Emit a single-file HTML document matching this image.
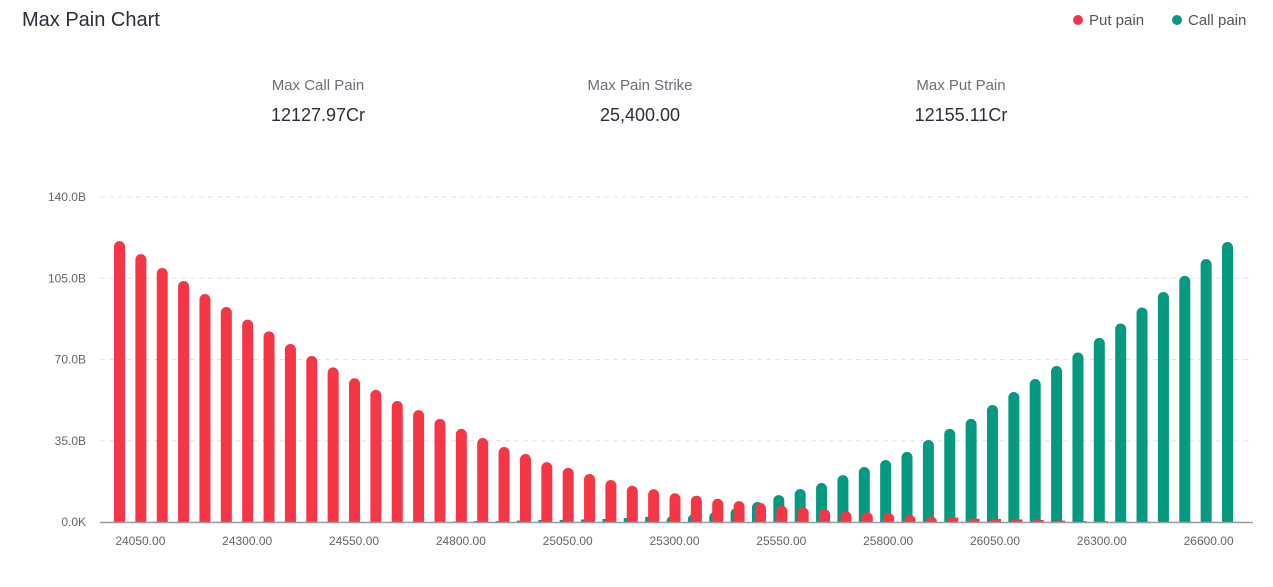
<!DOCTYPE html>
<html><head><meta charset="utf-8"><style>
body{margin:0;background:#fff;font-family:"Liberation Sans",sans-serif;}
#wrap{position:relative;width:1273px;height:587px;overflow:hidden;}
.t{position:absolute;white-space:nowrap;}
</style></head><body>
<div id="wrap">
<div class="t" style="left:22px;top:9px;font-size:20px;color:#2a2f3a;">Max Pain Chart</div>
<div class="t" style="left:1073px;top:12px;font-size:15px;color:#555;"><span style="display:inline-block;width:10px;height:10px;border-radius:50%;background:#f43647;margin-right:6px;vertical-align:0px"></span>Put pain</div>
<div class="t" style="left:1172px;top:12px;font-size:15px;color:#555;"><span style="display:inline-block;width:10px;height:10px;border-radius:50%;background:#059a80;margin-right:6px;vertical-align:0px"></span>Call pain</div>
<div class="t" style="left:218px;width:200px;text-align:center;top:77px;font-size:15px;color:#6b6f78;">Max Call Pain</div>
<div class="t" style="left:218px;width:200px;text-align:center;top:105px;font-size:18px;color:#2a2f3a;">12127.97Cr</div>
<div class="t" style="left:540px;width:200px;text-align:center;top:77px;font-size:15px;color:#6b6f78;">Max Pain Strike</div>
<div class="t" style="left:540px;width:200px;text-align:center;top:105px;font-size:18px;color:#2a2f3a;">25,400.00</div>
<div class="t" style="left:861px;width:200px;text-align:center;top:77px;font-size:15px;color:#6b6f78;">Max Put Pain</div>
<div class="t" style="left:861px;width:200px;text-align:center;top:105px;font-size:18px;color:#2a2f3a;">12155.11Cr</div>
<svg id="chart" width="1273" height="587" style="position:absolute;left:0;top:0" font-family="Liberation Sans, sans-serif"></svg>
</div>
<script>
const putPain=[121.0,115.4,109.4,103.8,98.2,92.6,87.2,82.1,76.7,71.5,66.6,61.9,56.9,52.1,48.2,44.4,40.1,36.2,32.3,29.3,25.8,23.3,20.7,18.1,15.6,14.1,12.4,11.3,10.0,9.0,8.2,7.0,6.3,5.6,4.7,4.2,3.9,3.0,2.4,1.9,1.4,1.3,1.1,0.9,0.6,0.4,0.4,0.2,0.2,0.1,0.1,0.1,0.1];
const callPain=[0.1,0.1,0.1,0.1,0.1,0.1,0.1,0.1,0.1,0.1,0.1,0.1,0.1,0.1,0.1,0.1,0.2,0.4,0.4,0.6,0.9,0.9,1.1,1.3,1.7,2.2,2.6,3.4,4.3,6.0,8.6,11.6,14.2,16.8,20.2,23.7,26.7,30.2,35.3,40.1,44.4,50.4,56.0,61.6,67.2,73.0,79.3,85.5,92.4,99.1,106.0,113.3,120.6];
const yTicks=[0,35,70,105,140];
const yTickLabels=["0.0K","35.0B","70.0B","105.0B","140.0B"];
const xTickLabels=["24050.00","24300.00","24550.00","24800.00","25050.00","25300.00","25550.00","25800.00","26050.00","26300.00","26600.00"];
const NS="http://www.w3.org/2000/svg";
const svg=document.getElementById('chart');
const y0=522,yTop=197,yMax=140;
const y=v=>y0-(v/yMax)*(y0-yTop);
const n=putPain.length;
const x=i=>119+i*(1230-119)/(n-1);
function mk(tag,attrs){const e=document.createElementNS(NS,tag);for(const k in attrs)e.setAttribute(k,attrs[k]);svg.appendChild(e);return e;}
yTicks.forEach((t,i)=>{
  if(t>0){const g=mk('line',{x1:100,x2:1253,y1:y(t),y2:y(t),stroke:'#e3e3e3','stroke-dasharray':'5,4'});
  
  }
  const l=mk('text',{x:86,y:y(t)+4,'text-anchor':'end','font-size':12,fill:'#666'});
  l.textContent=yTickLabels[i];
  
  
});
function bar(cx,v,color,name){
  const w=11,r=5.5,top=y(v),h=y0-top;
  let d;
  if(h>r){d=`M${cx-w/2},${y0}V${top+r}A${r},${r} 0 0 1 ${cx+w/2},${top+r}V${y0}Z`;}
  else{d=`M${cx-w/2},${y0}V${top}H${cx+w/2}V${y0}Z`;}
  const p=mk('path',{d:d,fill:color});
  
  
}
for(let i=0;i<n;i++)bar(x(i)-2.5,callPain[i],'#059a80','call-pain-bar');
for(let i=0;i<n;i++)bar(x(i)+0.5,putPain[i],'#f43647','put-pain-bar');
const ax=mk('line',{x1:100,x2:1253,y1:y0+0.5,y2:y0+0.5,stroke:'#9a9ca3','stroke-width':1.5});


xTickLabels.forEach((s,k)=>{
  const t=mk('text',{x:x(1+5*k),y:545,'text-anchor':'middle','font-size':12,fill:'#666'});
  t.textContent=s;
  
  
});
</script>
</body></html>
